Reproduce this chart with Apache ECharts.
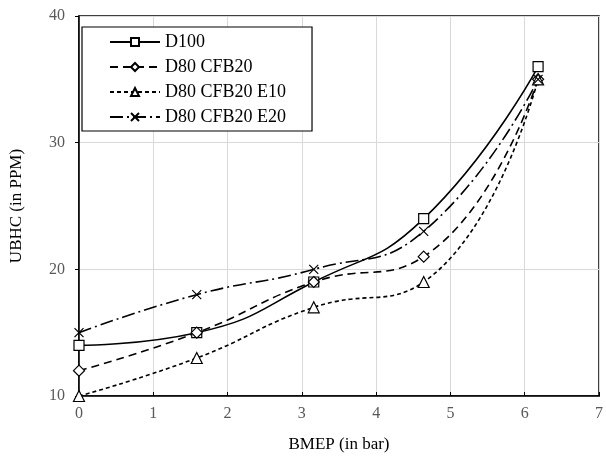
<!DOCTYPE html>
<html>
<head>
<meta charset="utf-8">
<script src="https://cdn.jsdelivr.net/npm/echarts@6/dist/echarts.min.js"></script>
<style>html,body{margin:0;padding:0;background:#fff}#c{width:606px;height:458px}</style>
</head>
<body>
<div id="c"></div>
<script>
var seriesNames = ['D100', 'D80 CFB20', 'D80 CFB20 E10', 'D80 CFB20 E20'];
var bmep = [0, 1.585, 3.16, 4.64, 6.18];
var d100 = [14, 15, 19, 24, 36];
var d80cfb20 = [12, 15, 19, 21, 35];
var d80cfb20e10 = [10, 13, 17, 19, 35];
var d80cfb20e20 = [15, 18, 20, 23, 35];
var xTicks = [0, 1, 2, 3, 4, 5, 6, 7];
var yTicks = [10, 20, 30, 40];

var FONT = 'Liberation Serif';
function pairs(ys) { return bmep.map(function (x, i) { return [x, ys[i]]; }); }
var xPath = 'path://M0,0L10,10M0,10L10,0';
var symbols = ['rect', 'diamond', 'triangle', xPath];
var dashes = ['solid', [8, 5], [4, 3], [13, 4, 2, 4]];
var vals = [d100, d80cfb20, d80cfb20e10, d80cfb20e20];
var sizes = [10, 11, 11, 9];

var series = seriesNames.map(function (n, i) {
  return {
    name: n, type: 'line', data: pairs(vals[i]), smooth: 0.5,
    symbol: symbols[i], symbolSize: sizes[i], showAllSymbol: true,
    lineStyle: { color: '#000', width: 1.6, type: dashes[i] },
    itemStyle: { color: i === 3 ? 'none' : '#fff', borderColor: '#000', borderWidth: 1.2 },
    emphasis: { disabled: true }
  };
});

var chart = echarts.init(document.getElementById('c'), null, { renderer: 'canvas' });
chart.setOption({
  animation: false,
  backgroundColor: '#fff',
  grid: { left: 69, top: 16, right: 3, bottom: 60, show: true, borderColor: '#000', borderWidth: 1.5, containLabel: false },
  legend: {
    orient: 'vertical', left: 82, top: 27,
    data: seriesNames,
    itemWidth: 50, itemHeight: 10, itemGap: 7,
    padding: [6, 26, 5, 27],
    borderColor: '#000', borderWidth: 1.2, backgroundColor: '#fff',
    textStyle: { fontFamily: FONT, fontSize: 18, color: '#000', lineHeight: 18 }
  },
  xAxis: {
    type: 'value', min: xTicks[0], max: xTicks[xTicks.length - 1], interval: 1,
    name: 'BMEP (in bar)', nameLocation: 'middle', nameGap: 40,
    nameTextStyle: { fontFamily: FONT, fontSize: 17, color: '#000' },
    axisLine: { onZero: false, lineStyle: { color: '#000', width: 1.5 } },
    axisTick: { inside: true, length: 4, lineStyle: { color: '#000' } },
    axisLabel: { fontFamily: FONT, fontSize: 16, color: '#595959', margin: 10 },
    splitLine: { show: true, lineStyle: { color: '#d9d9d9', width: 1 } }
  },
  yAxis: {
    type: 'value', min: yTicks[0], max: yTicks[yTicks.length - 1], interval: 10,
    name: 'UBHC (in PPM)', nameLocation: 'middle', nameGap: 54,
    nameTextStyle: { fontFamily: FONT, fontSize: 17, color: '#000' },
    axisLine: { show: true, lineStyle: { color: '#000', width: 1.5 } },
    axisTick: { show: true, length: 4, lineStyle: { color: '#000' } },
    axisLabel: { fontFamily: FONT, fontSize: 16, color: '#595959', margin: 14 },
    splitLine: { show: true, lineStyle: { color: '#d9d9d9', width: 1 } }
  },
  series: series
});
</script>
</body>
</html>
